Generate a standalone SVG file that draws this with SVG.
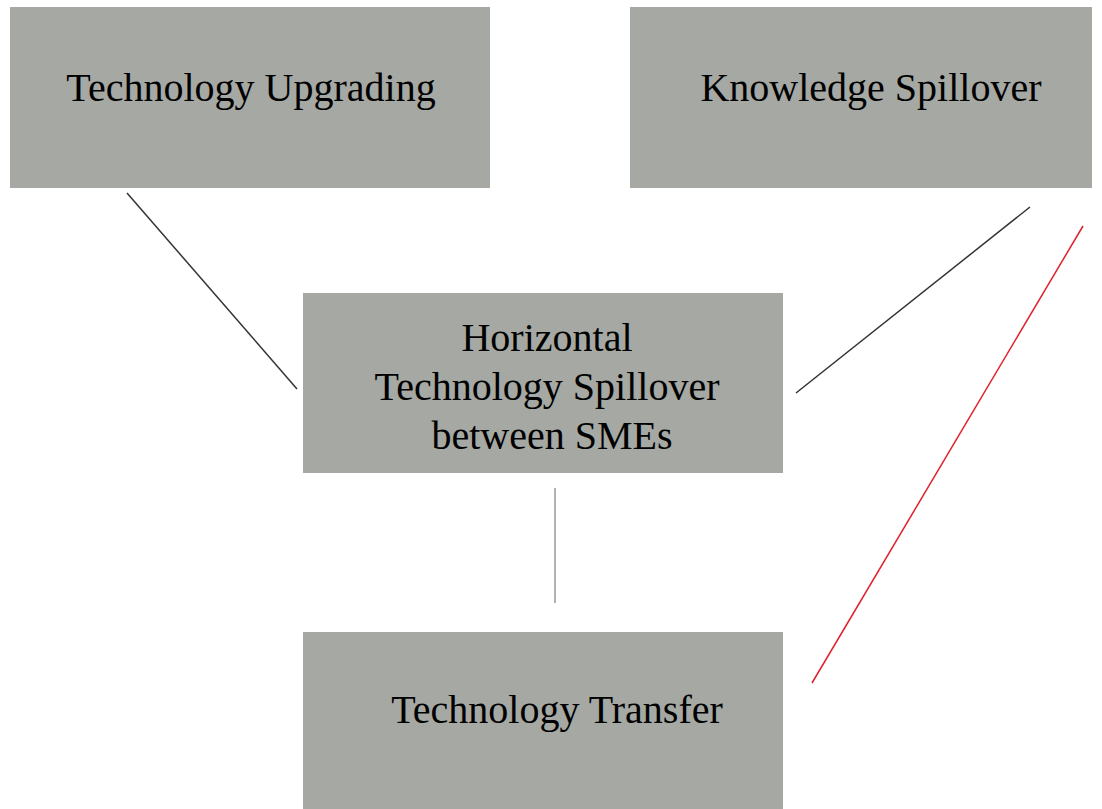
<svg xmlns="http://www.w3.org/2000/svg" width="1102" height="809" viewBox="0 0 1102 809">
<style>
.box{fill:#a6a8a3;}
.t{font-family:"Liberation Serif","Times New Roman",serif;font-size:40px;fill:#000;text-anchor:middle;}
</style>
<rect width="1102" height="809" fill="#ffffff"/>
<g id="connectors" fill="none">
<line x1="127" y1="193" x2="297" y2="389" stroke="#333" stroke-width="1.5"/>
<line x1="1030" y1="207" x2="796" y2="393" stroke="#333" stroke-width="1.5"/>
<line x1="555" y1="488" x2="555" y2="603" stroke="#999" stroke-width="1.5"/>
<line x1="1083" y1="226" x2="812" y2="683" stroke="#e0202a" stroke-width="1.5"/>
</g>
<g id="upgrading">
<rect class="box" x="10" y="7" width="480" height="181"/>
<text class="t" x="251" y="101">Technology Upgrading</text>
</g>
<g id="knowledge">
<rect class="box" x="630" y="7" width="462" height="181"/>
<text class="t" x="871" y="101">Knowledge Spillover</text>
</g>
<g id="horizontal">
<rect class="box" x="303" y="293" width="480" height="180"/>
<text class="t" x="547" y="351">Horizontal</text>
<text class="t" x="547" y="400">Technology Spillover</text>
<text class="t" x="552" y="449">between SMEs</text>
</g>
<g id="transfer">
<rect class="box" x="303" y="632" width="480" height="177"/>
<text class="t" x="557" y="723">Technology Transfer</text>
</g>
</svg>
